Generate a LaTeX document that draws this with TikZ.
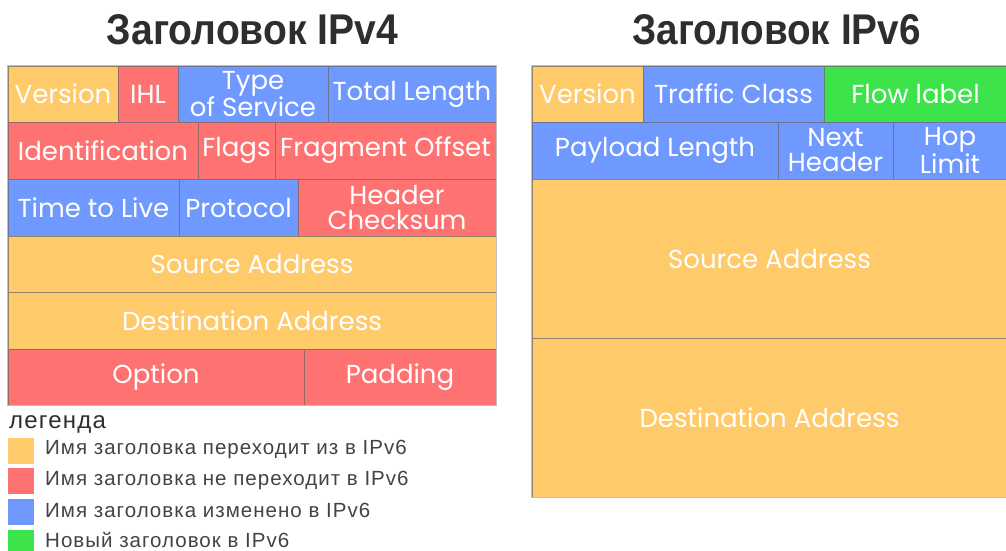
\documentclass[tikz,border=0pt]{standalone}
\usepackage{graphicx}
\usepackage{fontspec}
\setmainfont{Liberation Sans}
\newfontfamily\cellfont{Poppins}
\newfontfamily\legfont{Liberation Sans}[LetterSpace=5]

\definecolor{fkeep}{HTML}{FFCA69}
\definecolor{fdrop}{HTML}{FF7272}
\definecolor{frename}{HTML}{6F99FF}
\definecolor{fnew}{HTML}{3CE34A}
\definecolor{ink}{HTML}{2E2E2E}

\tikzset{
  fieldbox/.style={rectangle, draw=black!60, draw opacity=0.7, line width=0.8pt,
    inner sep=0pt, text=white, align=center,
    font=\cellfont\fontsize{26}{25}\selectfont},
  frame/.style={draw=black!25, line width=1.2pt},
  legsq/.style={rectangle, minimum size=26pt, inner sep=0pt},
  legtext/.style={anchor=west, inner sep=0pt, text=ink!90,
    font=\legfont\fontsize{20.5}{22}\selectfont},
  title/.style={inner sep=0pt, text=ink}
}

% \field{name}{x1}{y1}{x2}{y2}{colour}{label}
\newcommand\field[7]{%
  \node[fieldbox, fill=#6, minimum width={(#4-#2)*1pt}, minimum height={(#5-#3)*1pt}]
    (#1) at ({(#2+#4)/2},{(#3+#5)/2}) {#7};}

\begin{document}
\begin{tikzpicture}[x=1pt,y=-1pt]
\useasboundingbox (0,0) rectangle (1006,550);

% titles
\node[title] (t4) at (252.5,30) {\resizebox{291pt}{30pt}{\bfseries Заголовок IPv4}};
\node[title] (t6) at (776.5,30) {\resizebox{288pt}{30pt}{\bfseries Заголовок IPv6}};

% IPv4 header
\field{v4ver}{8}{66}{118}{122}{fkeep}{Version}
\field{v4ihl}{118}{66}{178}{122}{fdrop}{IHL}
\field{v4tos}{178}{66}{328}{122}{frename}{Type\\of Service}
\field{v4len}{328}{66}{496}{122}{frename}{Total Length}
\field{v4id}{8}{122}{198}{179}{fdrop}{Identification}
\field{v4flg}{198}{122}{275}{179}{fdrop}{Flags}
\field{v4off}{275}{122}{496}{179}{fdrop}{Fragment Offset}
\field{v4ttl}{8}{179}{179}{236}{frename}{Time to Live}
\field{v4pro}{179}{179}{298}{236}{frename}{Protocol}
\field{v4chk}{298}{179}{496}{236}{fdrop}{Header\\Checksum}
\field{v4src}{8}{236}{496}{292}{fkeep}{Source Address}
\field{v4dst}{8}{292}{496}{349}{fkeep}{Destination Address}
\field{v4opt}{8}{349}{304}{405}{fdrop}{Option}
\field{v4pad}{304}{349}{496}{405}{fdrop}{Padding}
\draw[frame] (v4ver.north west) rectangle (v4pad.south east);

% IPv6 header
\field{v6ver}{532}{66}{643}{122}{fkeep}{Version}
\field{v6tc}{643}{66}{824}{122}{frename}{Traffic Class}
\field{v6flow}{824}{66}{1007}{122}{fnew}{Flow label}
\field{v6len}{532}{122}{778}{179}{frename}{Payload Length}
\field{v6nh}{778}{122}{893}{179}{frename}{Next\\Header}
\field{v6hop}{893}{122}{1007}{179}{frename}{Hop\\Limit}
\field{v6src}{532}{179}{1007}{338}{fkeep}{Source Address}
\field{v6dst}{532}{338}{1007}{497}{fkeep}{Destination Address}
\draw[frame] (v6ver.north west) rectangle (v6dst.south east);

% legend
\node[anchor=base west, inner sep=0pt, text=ink, font=\legfont\fontsize{24}{26}\selectfont]
  (leg) at (9,428) {легенда};
\node[legsq, fill=fkeep] (k1) at (21,450.5) {};
\node[legsq, fill=fdrop] (k2) at (21,481) {};
\node[legsq, fill=frename] (k3) at (21,512) {};
\node[legsq, fill=fnew] (k4) at (21,543) {};
\node[legtext] (l1) at (45,449) {Имя заголовка переходит из в IPv6};
\node[legtext] (l2) at (45,480) {Имя заголовка не переходит в IPv6};
\node[legtext] (l3) at (45,510) {Имя заголовка изменено в IPv6};
\node[legtext] (l4) at (45,540) {Новый заголовок в IPv6};
\end{tikzpicture}
\end{document}
